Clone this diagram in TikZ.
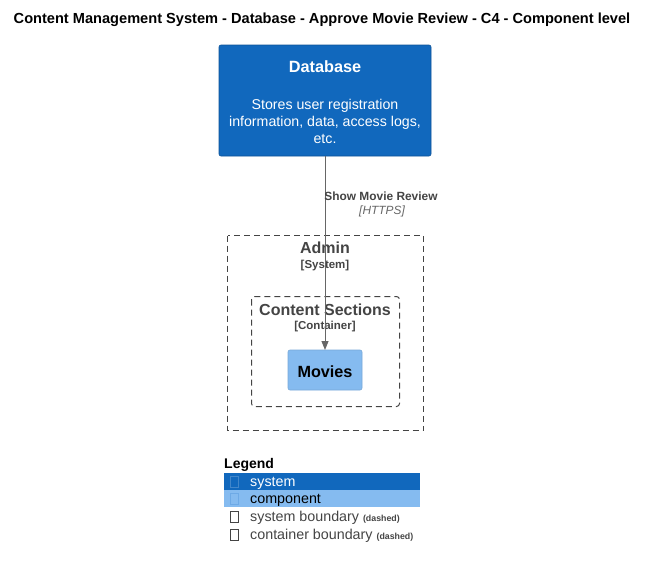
\documentclass[tikz,border=0pt]{standalone}
\usepackage{fontspec}
\setmainfont{Liberation Sans}
\usetikzlibrary{arrows.meta}
\definecolor{sysblue}{HTML}{1168BD}
\definecolor{compblue}{HTML}{85BBF0}
\definecolor{txtgray}{HTML}{444444}
\definecolor{linegray}{HTML}{666666}
\tikzset{
  sysbox/.style={draw=sysblue!80!black, fill=sysblue, rounded corners=2pt, line width=0.6pt},
  compbox/.style={draw=compblue!90!black, fill=compblue, rounded corners=2pt, line width=0.6pt},
  bound/.style={draw=txtgray, dashed, dash pattern=on 6pt off 4pt, line width=1pt},
  rel/.style={draw=linegray, line width=1pt, -{Triangle[length=9pt,width=7pt]}},
  glyph/.style={draw=txtgray, line width=0.6pt, minimum width=8pt, minimum height=11pt, inner sep=0pt},
}
\begin{document}
\begin{tikzpicture}[x=1pt,y=-1pt]
\useasboundingbox (0,0) rectangle (651,568);
% title
\node[font=\bfseries\fontsize{14.6}{17}\selectfont, anchor=center] (title) at (322,20) {Content Management System - Database - Approve Movie Review - C4 - Component level};
% boundaries
\draw[bound] (227.5,235.5) rectangle (423.5,430.5);
\node[font=\bfseries\fontsize{16}{19}\selectfont, text=txtgray] (admin) at (325,248) {Admin};
\node[font=\bfseries\fontsize{11.5}{13}\selectfont, text=txtgray] (adminst) at (325,266) {[System]};
\draw[bound, rounded corners=3pt] (251.5,296.5) rectangle (399.5,406.5);
\node[font=\bfseries\fontsize{16}{19}\selectfont, text=txtgray] (cs) at (325,310) {Content Sections};
\node[font=\bfseries\fontsize{11.5}{13}\selectfont, text=txtgray] (csst) at (325,327) {[Container]};
% database
\path[sysbox] (219,45) rectangle (431,156);
\node[font=\bfseries\fontsize{16.3}{19}\selectfont, text=white] (dbt) at (325,67) {Database};
\node[font=\fontsize{14.2}{17}\selectfont, text=white, align=center] (dbd) at (325,121) {Stores user registration\\information, data, access logs,\\etc.};
\coordinate (dbbot) at (325,156);
% movies
\path[compbox] (288,350) rectangle (362,390);
\node[font=\bfseries\fontsize{16.2}{19}\selectfont, text=black] (mov) at (325,372) {Movies};
\coordinate (movtop) at (325,350);
% relation
\draw[rel] (dbbot) -- (movtop);
\node[font=\bfseries\fontsize{11.9}{14}\selectfont, text=txtgray] (rl) at (381,196) {Show Movie Review};
\node[font=\itshape\fontsize{11.9}{14}\selectfont, text=linegray] (rl2) at (382,211) {[HTTPS]};
% legend
\node[font=\bfseries\fontsize{14}{16}\selectfont, anchor=west, text=black, inner sep=0pt] (leg) at (224,465) {Legend};
\path[fill=sysblue] (224,473) rectangle (420,490);
\path[fill=compblue] (224,490) rectangle (420,507);
\node[glyph, draw=sysblue!80!white] (g1) at (234,482) {};
\node[glyph, draw=compblue!80!sysblue] (g2) at (234,499) {};
\node[glyph] (g3) at (234,517) {};
\node[glyph] (g4) at (234,535) {};
\node[font=\fontsize{14.3}{16}\selectfont, anchor=west, text=white, inner sep=0pt] (l1) at (250,483) {system};
\node[font=\fontsize{14.3}{16}\selectfont, anchor=west, text=black, inner sep=0pt] (l2) at (250,500) {component};
\node[font=\fontsize{14.3}{16}\selectfont, anchor=west, text=txtgray, inner sep=0pt] (l3) at (250,518) {system boundary {\bfseries\fontsize{8.8}{10}\selectfont (dashed)}};
\node[font=\fontsize{14.3}{16}\selectfont, anchor=west, text=txtgray, inner sep=0pt] (l4) at (250,536) {container boundary {\bfseries\fontsize{8.8}{10}\selectfont (dashed)}};
\end{tikzpicture}
\end{document}
